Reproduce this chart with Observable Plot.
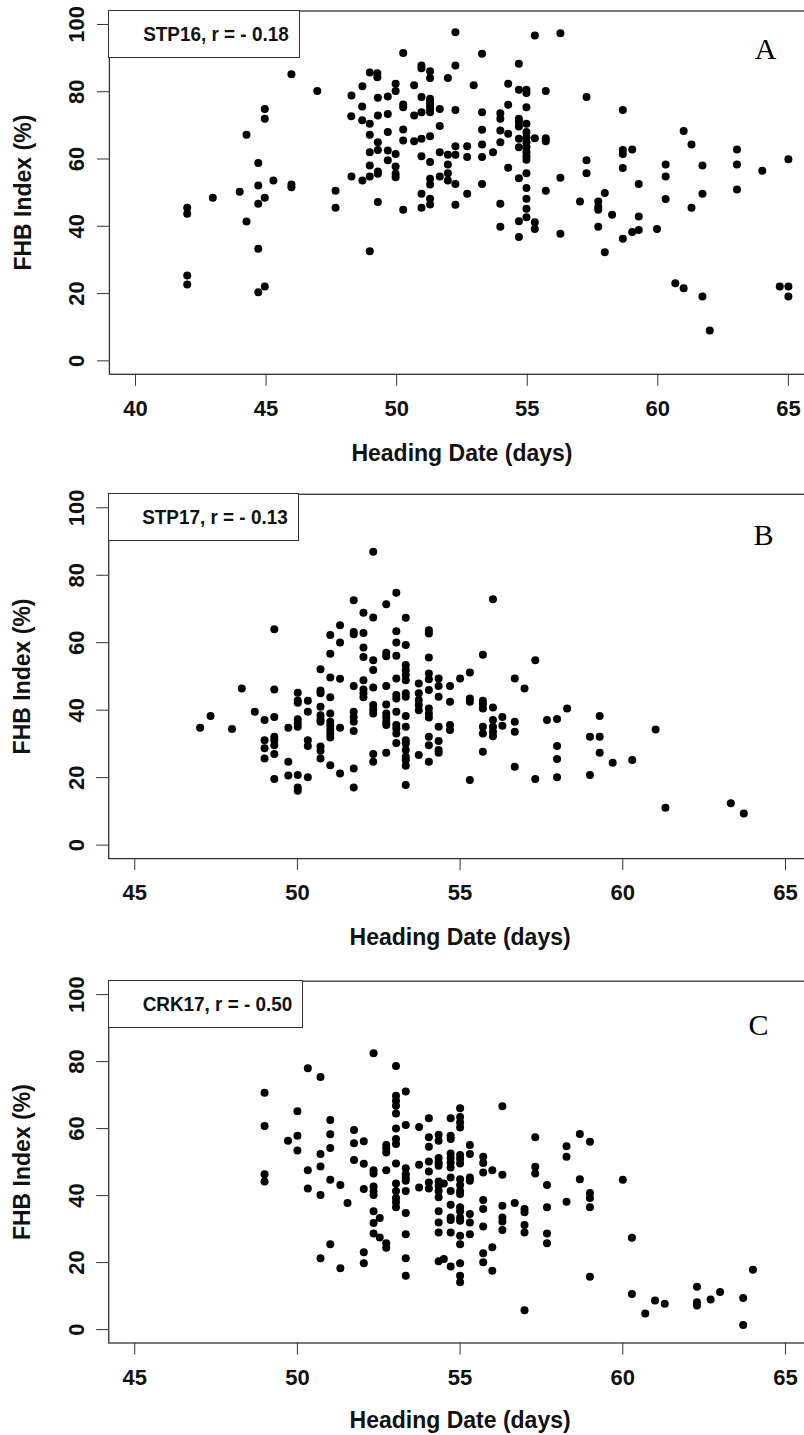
<!DOCTYPE html>
<html><head><meta charset="utf-8">
<script src="https://cdn.jsdelivr.net/npm/d3@7"></script>
<script src="https://cdn.jsdelivr.net/npm/@observablehq/plot@0.6"></script>
<style>
html,body{margin:0;padding:0;background:#fff;overflow:hidden;}
.panel{position:relative;width:804px;overflow:hidden;}
.panel svg{display:block;}
.legend{position:absolute;box-sizing:border-box;border:1.3px solid #333;background:#fff;display:flex;align-items:center;justify-content:flex-end;font:bold 21px "Liberation Sans",Arial,sans-serif;color:#111;}
.legend span{display:inline-block;transform:scaleX(0.9);transform-origin:right center;white-space:nowrap;}
</style></head><body><div id="chart"></div>
<script>
// ---- data: [heading date (days), FHB index (%)] ----
const stp16 = [
[50.25,91.5],[45.97,85.2],[46.96,80.2],[44.95,74.9],[44.95,72.0],[44.25,67.2],[48.27,78.9],[48.69,81.6],[48.97,85.7],[49.26,85.5],
[49.26,84.3],[48.68,75.6],[48.26,72.7],[48.68,71.5],[48.97,70.5],[49.28,78.2],[49.66,78.6],[49.96,82.4],[49.96,80.2],[50.67,81.9],
[50.95,87.8],[50.95,87.0],[51.28,86.1],[51.28,84.1],[50.25,76.2],[50.25,75.4],[50.67,72.9],[50.95,78.4],[50.95,73.9],[51.28,77.9],
[51.28,76.9],[51.28,75.9],[51.28,74.9],[51.28,73.9],[51.65,74.9],[51.65,69.8],[49.28,72.9],[49.66,73.4],[48.97,67.2],[50.25,68.8],
[50.25,65.5],[50.67,65.3],[50.95,66.0],[51.28,66.8],[49.66,68.0],[49.28,65.0],[49.28,62.7],[48.97,62.0],[49.66,62.5],[49.96,61.5],
[49.66,59.6],[48.97,58.1],[49.96,57.8],[50.95,60.8],[51.28,59.1],[51.65,62.0],[49.28,56.3],[49.28,55.6],[48.97,54.8],[48.27,54.8],
[48.69,53.6],[49.96,55.6],[49.96,54.6],[51.28,54.1],[51.28,52.4],[51.65,54.8],[50.95,49.7],[50.95,45.5],[51.28,48.2],[51.28,46.5],
[50.25,44.9],[49.28,47.2],[48.97,32.6],[47.66,50.6],[47.66,45.5],[45.97,52.4],[45.97,51.6],[45.28,53.6],[44.70,58.8],[44.70,52.1],
[43.99,50.3],[44.95,48.5],[44.70,46.7],[44.25,41.4],[42.96,48.5],[41.98,45.5],[41.98,43.7],[41.98,25.4],[41.98,22.7],[44.70,33.3],
[44.70,20.4],[44.95,22.1],
[52.25,97.7],[55.29,96.7],[56.27,97.4],[53.27,91.3],[52.25,87.8],[54.68,88.3],[51.96,84.1],[52.95,81.9],[54.27,82.4],[54.68,80.6],
[54.97,80.6],[54.97,79.6],[55.71,80.2],[57.27,78.4],[58.66,74.6],[52.25,74.6],[53.27,73.9],[53.97,73.6],[53.97,72.0],[54.27,76.1],
[54.97,75.4],[54.68,72.0],[54.68,71.0],[54.68,69.7],[54.97,70.5],[54.97,68.0],[54.97,66.5],[54.97,65.0],[54.97,63.5],[54.97,62.0],
[54.97,60.8],[54.97,59.8],[53.27,68.7],[53.97,68.5],[54.27,67.5],[54.68,66.0],[54.68,63.5],[55.29,66.2],[55.71,66.2],[55.71,65.3],
[53.97,65.0],[53.27,64.3],[52.70,63.8],[52.25,63.8],[51.96,61.3],[52.25,61.3],[52.70,60.6],[53.27,60.6],[53.69,62.0],[51.96,58.4],
[51.96,55.8],[51.96,53.6],[52.25,52.6],[52.70,49.7],[53.27,52.6],[52.25,46.4],[54.27,57.4],[54.68,54.3],[54.97,55.8],[54.97,51.4],
[54.97,48.2],[54.97,45.2],[54.97,42.7],[54.68,41.5],[53.97,46.7],[53.97,39.9],[55.29,41.2],[55.29,39.2],[54.68,36.8],[55.71,50.6],
[56.27,54.4],[56.27,37.8],[57.27,59.6],[57.27,55.8],[57.02,47.4],[57.72,47.4],[57.72,45.7],[57.72,44.9],[57.72,39.9],[57.97,49.9],
[57.97,32.3],[58.25,43.4],[58.66,62.7],[58.66,61.5],[59.02,62.8],[58.66,57.3],[59.27,52.6],[59.27,42.9],[59.02,38.3],[59.27,38.9],
[58.66,36.3],[59.97,39.2],[60.30,58.4],[60.30,54.8],[60.30,48.1],[60.99,68.3],[61.29,64.3],[61.71,58.1],[61.71,49.7],[61.29,45.5],
[63.03,62.8],[63.03,58.4],[63.03,50.9],[64.00,56.5],[65.00,59.9],[60.67,23.1],[60.99,21.6],[61.71,19.1],[61.99,9.0],[64.67,22.1],
[65.00,22.1],[65.00,19.1]
];
const stp17 = [
[52.33,87.0],[53.04,74.8],[52.73,71.4],[51.73,72.6],[52.03,68.9],[52.33,67.5],[53.33,67.4],[49.29,64.0],[51.31,65.2],[51.01,62.3],
[51.73,63.2],[51.73,62.5],[52.03,62.9],[53.04,63.4],[54.04,63.7],[54.04,62.7],[51.31,60.1],[53.33,59.3],[53.04,60.1],[51.01,56.7],
[52.03,58.6],[52.03,55.8],[52.33,54.8],[52.73,57.0],[52.73,56.0],[53.04,56.1],[54.04,55.6],[50.71,52.1],[52.33,51.9],[53.33,53.4],
[53.33,51.9],[53.33,50.4],[53.33,48.9],[51.01,49.7],[51.31,49.3],[53.04,49.4],[54.04,50.9],[54.04,49.2],[54.34,49.4],[54.34,47.2],
[52.03,48.9],[51.73,47.2],[48.29,46.4],[49.29,46.1],[50.01,45.2],[50.01,42.9],[50.01,42.2],[50.32,42.8],[50.71,45.8],[50.71,45.0],
[51.01,43.8],[52.03,46.1],[52.03,45.0],[52.03,43.8],[52.33,46.7],[52.73,47.2],[53.04,44.5],[53.04,43.5],[53.33,45.0],[53.33,44.0],
[53.73,47.9],[53.73,45.0],[53.73,43.0],[53.73,41.5],[53.73,40.0],[54.04,46.0],[54.34,44.0],[52.73,41.7],[52.33,41.5],[52.33,40.2],
[52.33,39.0],[53.04,39.5],[52.73,39.0],[52.73,37.8],[52.73,36.6],[52.73,35.6],[53.04,35.6],[53.04,34.6],[53.04,33.1],[53.33,38.3],
[53.33,35.1],[54.04,40.5],[54.04,39.0],[54.04,37.8],[54.34,35.1],[54.04,32.1],[54.04,29.6],[54.34,30.9],[54.34,28.2],[54.34,27.4],
[53.33,31.1],[53.33,30.1],[53.33,28.2],[53.33,26.2],[53.33,25.2],[53.33,23.5],[53.04,30.3],[53.73,26.7],[54.04,24.7],[52.73,27.4],
[52.33,27.0],[52.33,24.7],[53.33,17.8],[51.73,39.5],[51.73,38.0],[51.73,36.6],[51.73,33.8],[51.31,34.8],[51.01,39.0],[51.01,36.6],
[51.01,35.4],[51.01,34.3],[51.01,33.1],[51.01,31.9],[50.71,41.0],[50.71,38.5],[50.71,37.3],[50.71,36.6],[50.32,39.5],[50.01,37.3],
[50.01,36.1],[50.01,35.1],[49.72,34.8],[48.69,39.5],[48.99,37.1],[49.29,38.0],[47.33,38.3],[47.01,34.8],[47.99,34.4],[48.99,31.1],
[48.99,28.7],[48.99,25.7],[49.29,32.1],[49.29,31.1],[49.29,29.6],[49.29,27.0],[49.72,24.7],[50.32,31.1],[50.32,29.4],[50.71,29.2],
[50.71,28.0],[50.71,25.7],[51.01,23.7],[51.31,21.2],[51.73,22.7],[51.73,17.1],[49.29,19.6],[49.72,20.6],[50.01,20.8],[50.32,20.1],
[50.01,17.1],[50.01,16.1],
[56.01,72.9],[55.70,56.4],[57.31,54.8],[55.30,51.2],[55.00,49.4],[54.69,47.2],[56.68,49.4],[56.98,46.4],[54.69,42.5],[55.30,43.5],
[55.30,42.5],[55.70,42.8],[55.70,41.8],[55.70,40.5],[56.01,40.8],[58.29,40.5],[56.30,38.0],[56.30,35.4],[56.01,37.1],[56.01,35.1],
[56.01,33.6],[56.01,32.3],[55.70,35.1],[55.70,33.1],[56.68,36.6],[56.68,33.6],[54.69,35.6],[54.69,34.1],[57.67,37.1],[57.98,37.4],
[57.98,29.4],[57.98,25.5],[57.98,20.1],[57.31,19.6],[56.68,23.2],[55.70,27.7],[55.30,19.3],[59.29,38.3],[58.99,32.1],[59.29,32.1],
[59.29,27.4],[59.69,24.4],[60.29,25.2],[58.99,20.8],[61.01,34.3],[61.31,11.1],[63.32,12.4],[63.72,9.4]
];
const crk17 = [
[52.34,82.5],[53.03,78.7],[50.32,78.0],[50.71,75.4],[48.99,70.7],[53.33,71.1],[53.03,69.8],[53.03,68.3],[53.03,66.8],[53.03,64.5],
[50.00,65.2],[48.99,60.8],[51.01,62.6],[54.04,63.1],[53.33,61.1],[53.74,60.5],[53.03,60.0],[51.74,59.6],[51.01,58.3],[50.00,57.9],
[49.71,56.4],[51.74,55.6],[52.04,56.2],[53.03,56.9],[53.03,55.4],[52.73,55.1],[52.73,54.1],[52.73,52.9],[54.04,57.4],[54.04,54.6],
[54.34,58.2],[54.34,56.4],[51.01,54.2],[50.00,53.5],[50.71,52.4],[51.74,50.6],[52.04,49.5],[53.03,49.6],[53.74,49.2],[54.04,50.2],
[54.34,51.2],[54.34,49.9],[54.34,48.9],[50.71,48.7],[50.32,47.6],[52.34,47.6],[52.34,46.6],[52.73,47.6],[53.33,48.2],[53.33,46.4],
[53.33,45.4],[53.33,44.4],[54.04,47.2],[48.99,46.4],[48.99,44.2],[51.01,44.7],[51.32,43.2],[50.32,42.1],[50.71,40.2],[52.04,42.0],
[52.34,42.7],[52.34,41.4],[52.34,40.2],[53.03,43.6],[53.03,41.4],[53.03,39.3],[53.03,38.0],[53.03,36.5],[53.33,41.4],[53.74,42.4],
[54.04,43.9],[54.04,42.1],[54.34,44.2],[54.34,42.9],[54.34,41.4],[54.34,39.5],[54.50,43.6],[51.54,37.8],[52.34,35.3],[52.53,33.3],
[52.34,31.8],[53.33,34.8],[54.34,35.3],[54.34,32.0],[52.34,28.7],[52.53,27.5],[52.73,25.8],[52.73,24.4],[53.33,28.5],[54.34,29.0],
[51.01,25.5],[50.71,21.3],[51.32,18.3],[52.04,23.1],[52.04,19.8],[53.33,21.3],[53.33,16.1],[54.34,20.4],[54.50,21.1],
[54.71,63.1],[55.00,66.1],[55.00,63.5],[55.00,61.8],[55.00,60.3],[56.30,66.7],[54.71,57.9],[54.71,56.9],[54.71,52.6],[54.71,51.2],
[54.71,49.9],[54.71,48.4],[55.00,52.1],[55.00,50.9],[55.00,49.6],[55.30,55.1],[55.30,52.4],[55.71,51.6],[55.71,49.7],[55.71,46.9],
[55.99,47.6],[56.30,46.2],[57.31,57.4],[57.31,48.6],[57.31,46.6],[57.67,43.2],[58.27,54.7],[58.27,51.6],[58.68,58.4],[58.99,56.1],
[58.68,44.9],[58.99,40.8],[58.99,39.3],[58.99,36.5],[58.27,38.2],[57.67,36.5],[60.00,44.7],[54.71,45.4],[55.00,44.9],[55.00,43.2],
[55.00,41.4],[55.00,40.5],[55.30,45.4],[55.30,44.4],[54.71,41.4],[54.71,37.3],[55.00,36.5],[55.00,35.3],[55.00,33.5],[55.00,32.5],
[54.71,33.5],[54.71,32.7],[55.30,34.5],[55.30,32.0],[55.71,38.7],[55.71,36.0],[56.30,37.0],[56.68,37.8],[56.98,36.0],[56.98,35.0],
[56.30,33.5],[56.30,32.3],[56.30,29.7],[56.98,31.2],[56.98,29.0],[55.71,30.8],[54.71,29.0],[55.00,28.0],[55.00,25.5],[55.30,28.5],
[57.67,28.7],[57.67,25.8],[55.99,24.6],[55.71,22.8],[55.71,20.1],[55.99,17.6],[54.71,18.8],[55.00,19.8],[55.00,16.1],[55.00,14.1],
[58.99,15.8],[56.98,5.8],[60.28,27.4],[60.28,10.6],[60.99,8.7],[61.29,7.7],[60.69,4.8],[62.28,12.8],[62.28,8.2],[62.28,7.2],
[62.70,9.0],[62.99,11.2],[63.70,9.4],[63.70,1.4],[64.00,17.9]
];
const legendLabels = ["STP16, r = - 0.18", "STP17, r = - 0.13", "CRK17, r = - 0.50"];
const panelLetters = ["A", "B", "C"];
const xTicksA = [40, 45, 50, 55, 60, 65];
const xTicksBC = [45, 50, 55, 60, 65];
const yTicks = [0, 20, 40, 60, 80, 100];
const xTitle = "Heading Date (days)";
const yTitle = "FHB Index (%)";

// ---- layout ----
const SANS = "'Liberation Sans', Arial, Helvetica, sans-serif";
const SERIF = "'Liberation Serif', 'Times New Roman', serif";
const layout = [
  {data: stp16, xDomain: [39, 66], xTicks: xTicksA, height: 480, mt: 10.5, mb: 106.2, ml: 108.9, mr: -10,
   leg: {left: 108, top: 10, width: 191.5, height: 47.5, pad: 10}, letterDx: -49, letterDy: 38.5, titleDy: 79},
  {data: stp17, xDomain: [44.2, 65.8], xTicks: xTicksBC, height: 480, mt: 13.8, mb: 101.9, ml: 108.2, mr: -7,
   leg: {left: 107.5, top: 13.2, width: 191, height: 48, pad: 10}, letterDx: -48, letterDy: 41.5, titleDy: 79},
  {data: crk17, xDomain: [44.2, 65.8], xTicks: xTicksBC, height: 475, mt: 20.7, mb: 92.5, ml: 108.2, mr: -7,
   leg: {left: 107.5, top: 20.2, width: 195, height: 47.5, pad: 9.5}, letterDx: -53, letterDy: 44.3, titleDy: 77.5}
];

const root = document.getElementById("chart");
layout.forEach((p, i) => {
  const plot = Plot.plot({
    width: 804,
    height: p.height,
    marginTop: p.mt, marginBottom: p.mb, marginLeft: p.ml, marginRight: p.mr,
    style: {fontFamily: SANS, color: "#111", background: "#fff"},
    x: {domain: p.xDomain},
    y: {domain: [-4, 104]},
    marks: [
      Plot.frame({stroke: "#333", strokeWidth: 1.3}),
      Plot.axisX({ticks: p.xTicks, tickSize: 12, tickPadding: 14, fontSize: 22, fontWeight: "bold", label: null, stroke: "#333"}),
      Plot.axisY({ticks: yTicks, tickSize: 12, tickPadding: 13, tickRotate: -90, fontSize: 22, fontWeight: "bold", label: null, stroke: "#333"}),
      Plot.dot(p.data, {x: d => d[0], y: d => d[1], r: 4, fill: "#000"}),
      Plot.text([xTitle], {frameAnchor: "bottom", dy: p.titleDy, lineAnchor: "middle", textAnchor: "middle", fontSize: 23, fontWeight: "bold", fill: "#111"}),
      Plot.text([yTitle], {frameAnchor: "left", dx: -86, rotate: -90, lineAnchor: "middle", textAnchor: "middle", fontSize: 23, fontWeight: "bold", fill: "#111"}),
      Plot.text([panelLetters[i]], {frameAnchor: "top-right", dx: p.letterDx, dy: p.letterDy, lineAnchor: "middle", textAnchor: "middle", fontSize: 30, fontFamily: SERIF, fill: "#000"})
    ]
  });
  const wrap = document.createElement("div");
  wrap.className = "panel";
  wrap.style.height = p.height + "px";
  wrap.appendChild(plot);
  const leg = document.createElement("div");
  leg.className = "legend";
  Object.assign(leg.style, {left: p.leg.left + "px", top: p.leg.top + "px", width: p.leg.width + "px", height: p.leg.height + "px", paddingRight: p.leg.pad + "px"});
  const span = document.createElement("span");
  span.textContent = legendLabels[i];
  leg.appendChild(span);
  wrap.appendChild(leg);
  root.appendChild(wrap);
});
</script>
</body></html>
